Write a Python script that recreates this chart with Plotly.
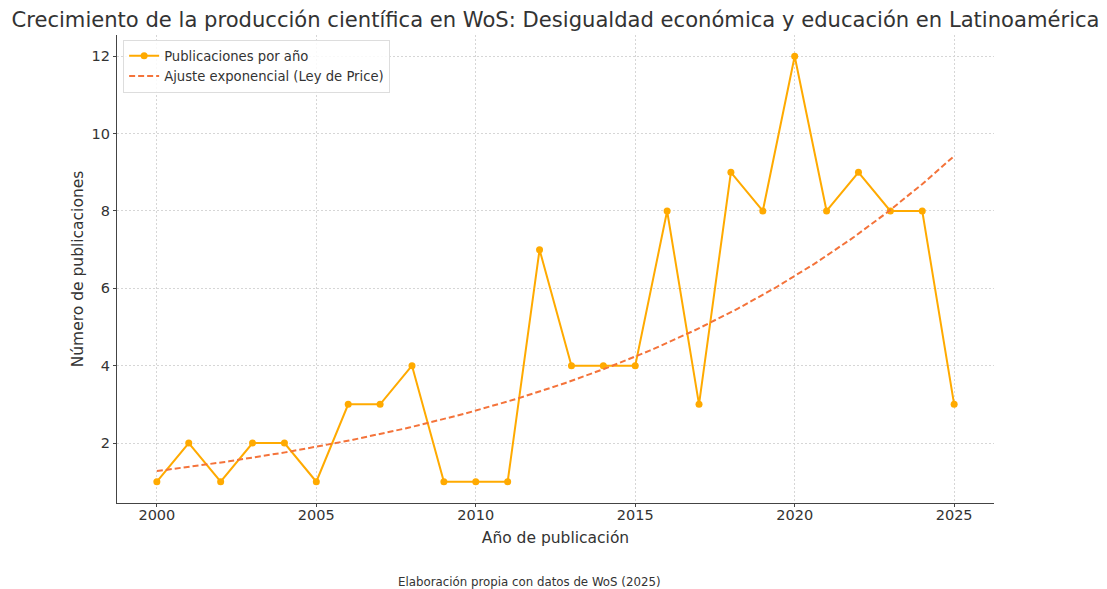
import numpy as np
import plotly.graph_objects as go

years = list(range(2000, 2026))
pubs = [1, 2, 1, 2, 2, 1, 3, 3, 4, 1, 1, 1, 7, 4, 4, 4, 8, 3, 9, 8, 12, 8, 9, 8, 8, 3]

# exponential fit parameters: y = fit_a * exp(fit_b * (year - 2000))
fit_a = 1.275
fit_b = 0.0800

title = "Crecimiento de la producción científica en WoS: Desigualdad económica y educación en Latinoamérica"
x_title = "Año de publicación"
y_title = "Número de publicaciones"
caption = "Elaboración propia con datos de WoS (2025)"
name_data = "Publicaciones por año"
name_fit = "Ajuste exponencial (Ley de Price)"

xf = np.linspace(years[0], years[-1], 200)
yf = fit_a * np.exp(fit_b * (xf - years[0]))

FONT = "DejaVu Sans"
TXT = "#333333"
fig = go.Figure()
fig.add_trace(go.Scatter(x=years, y=pubs, mode="lines+markers", name=name_data,
                         line=dict(color="#FFAA00", width=2),
                         marker=dict(color="#FFAA00", size=7)))
fig.add_trace(go.Scatter(x=xf, y=yf, mode="lines", name=name_fit,
                         line=dict(color="#F4733A", width=2, dash="6px,3px")))

axis_common = dict(showline=True, linecolor="#444444", linewidth=1.4, mirror=False,
                   ticks="outside", ticklen=3, tickcolor="#444444",
                   showgrid=True, gridcolor="#d6d6d6", griddash="2px,2px", gridwidth=0.8,
                   zeroline=False, tickfont=dict(size=14.5, color=TXT, family=FONT))
fig.update_xaxes(range=[1998.75, 2026.25], tickvals=[2000, 2005, 2010, 2015, 2020, 2025],
                 ticklabelstandoff=-5,
                 title=dict(text=x_title, font=dict(size=15.5, color=TXT, family=FONT), standoff=10),
                 **axis_common)
fig.update_yaxes(range=[0.45, 12.55], tickvals=[2, 4, 6, 8, 10, 12],
                 title=dict(text=y_title, font=dict(size=15.5, color=TXT, family=FONT), standoff=4),
                 **axis_common)

fig.update_layout(
    width=1099, height=581,
    margin=dict(l=109, r=113, t=27, b=86),
    plot_bgcolor="white", paper_bgcolor="white",
    font=dict(family=FONT, color=TXT),
    title=dict(text=title, x=0.5, xref="paper", xanchor="center", y=1 - 12 / 581, yanchor="middle",
               font=dict(size=21.1, color=TXT, family=FONT)),
    legend=dict(x=0.007, y=0.99, xanchor="left", yanchor="top",
                bgcolor="rgba(255,255,255,0.85)", bordercolor="#dddddd", borderwidth=1,
                font=dict(size=13.2, color=TXT, family=FONT), tracegroupgap=0,
                itemwidth=30),
    showlegend=True,
    annotations=[dict(text=caption, xref="paper", yref="paper", x=0.4707, y=-0.169,
                      xanchor="center", yanchor="middle", showarrow=False,
                      font=dict(size=11.8, color=TXT, family=FONT))],
)

fig.write_html("out.html")
